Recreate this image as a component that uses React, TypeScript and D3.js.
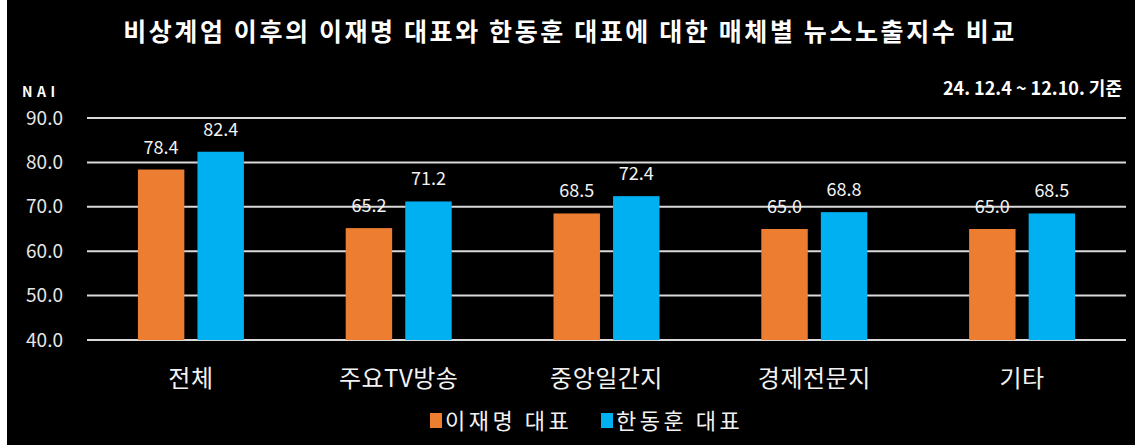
import { useMemo } from "react";
import * as d3 from "d3";

const categories = ["전체", "주요TV방송", "중앙일간지", "경제전문지", "기타"];
const seriesNames = ["이재명 대표", "한동훈 대표"];
const leeValues = [78.4, 65.2, 68.5, 65.0, 65.0];
const hanValues = [82.4, 71.2, 72.4, 68.8, 68.5];
const yTicks = [40, 50, 60, 70, 80, 90];

const colors = ["#ED7D31", "#00B0F0"];

const WIDTH = 1135;
const HEIGHT = 445;
const FONT = "'Noto Sans CJK KR', 'Noto Sans', sans-serif";

type Row = { category: string; values: number[] };

export default function App() {
    const data: Row[] = useMemo(
        () => categories.map((c, i) => ({ category: c, values: [leeValues[i], hanValues[i]] })),
        []
    );

    const x0 = d3.scaleBand<string>().domain(categories).range([87, 1126]).padding(0);
    const groupWidth = 106;
    const x1 = d3.scaleBand<number>().domain([0, 1]).range([0, groupWidth]).paddingInner(0.22);
    const y = d3.scaleLinear().domain([40, 90]).range([340, 118]);

    return (
        <svg
            width={WIDTH}
            height={HEIGHT}
            style={{ position: "absolute", left: 0, top: 0, display: "block" }}
        >
            <rect x={0} y={0} width={WIDTH} height={HEIGHT} fill="#ffffff" />
            <rect x={7} y={0} width={WIDTH - 7} height={HEIGHT} fill="#000000" />

            <text
                x={570}
                y={41}
                textAnchor="middle"
                fill="#ffffff"
                fontFamily={FONT}
                fontWeight="bold"
                fontSize={25}
                letterSpacing={2.6}
            >
                비상계엄 이후의 이재명 대표와 한동훈 대표에 대한 매체별 뉴스노출지수 비교
            </text>

            <text x={22} y={97} fill="#ffffff" fontFamily={FONT} fontWeight="bold" fontSize={14} letterSpacing={4.5}>
                NAI
            </text>
            <text
                x={1122}
                y={95}
                textAnchor="end"
                fill="#ffffff"
                fontFamily={FONT}
                fontWeight="bold"
                fontSize={18}
            >
                24. 12.4 ~ 12.10. 기준
            </text>

            {/* gridlines + y labels */}
            {yTicks.map(t => (
                <g key={t}>
                    <line x1={87} x2={1126} y1={y(t)} y2={y(t)} stroke="#d9d9d9" strokeWidth={2} />
                    <text
                        x={63}
                        y={y(t)}
                        dy="0.35em"
                        textAnchor="end"
                        fill="#e6e6e6"
                        fontFamily={FONT}
                        fontSize={19}
                    >
                        {t.toFixed(1)}
                    </text>
                </g>
            ))}

            {/* bars */}
            {data.map(d => {
                const gx = (x0(d.category) as number) + x0.bandwidth() / 2 - groupWidth / 2;
                return (
                    <g key={d.category} transform={`translate(${gx},0)`}>
                        {d.values.map((v, i) => (
                            <g key={i}>
                                <rect
                                    x={x1(i)}
                                    y={y(v)}
                                    width={x1.bandwidth()}
                                    height={y(40) - y(v)}
                                    fill={colors[i]}
                                />
                                <text
                                    x={(x1(i) as number) + x1.bandwidth() / 2}
                                    y={y(v) - 16}
                                    textAnchor="middle"
                                    fill="#f2f2f2"
                                    fontFamily={FONT}
                                    fontSize={18}
                                >
                                    {v.toFixed(1)}
                                </text>
                            </g>
                        ))}
                    </g>
                );
            })}

            {/* category labels */}
            {categories.map(c => (
                <text
                    key={c}
                    x={(x0(c) as number) + x0.bandwidth() / 2}
                    y={387}
                    textAnchor="middle"
                    fill="#f2f2f2"
                    fontFamily={FONT}
                    fontSize={24}
                    letterSpacing={0.5}
                >
                    {c}
                </text>
            ))}

            {/* legend */}
            {seriesNames.map((s, i) => {
                const lx = i === 0 ? 430 : 601;
                return (
                    <g key={s}>
                        <rect x={lx} y={413} width={12} height={15} fill={colors[i]} />
                        <text x={lx + 15} y={429} fill="#f2f2f2" fontFamily={FONT} fontSize={22} letterSpacing={3.5}>
                            {s}
                        </text>
                    </g>
                );
            })}
        </svg>
    );
}
